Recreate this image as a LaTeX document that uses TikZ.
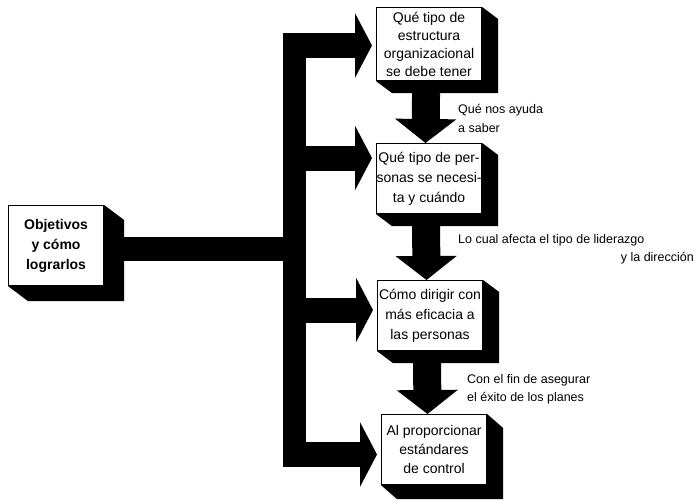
\documentclass[tikz,border=0pt]{standalone}
\usepackage{fontspec}
\setmainfont{Liberation Sans}
\usetikzlibrary{arrows.meta,calc,backgrounds}
\newcommand\boxshadow[3]{\fill (#1.north east) -- ++(#2,#3) |- ($(#1.south west)+(#2,#3)$) -- (#1.south west) -- (#1.south east) -- cycle;}
\begin{document}
\begin{tikzpicture}[x=1pt,y=-1pt,
  box/.style={draw,line width=1.1pt,fill=white,minimum width=105pt,minimum height=72pt,inner sep=0pt,align=center,font=\fontsize{14}{18}\selectfont},
  fat/.style={line width=25pt,-{Triangle[width=64pt,length=17pt]},shorten >=4pt},
  down/.style={line width=28pt,-{Triangle[width=60pt,length=24pt]}},
  lab/.style={font=\fontsize{12.5}{18}\selectfont,inner sep=0pt,anchor=west}]
\useasboundingbox (0,0) rectangle (696,501);
% boxes
\node[box,anchor=north west,minimum height=73pt] (b1) at (376,7) {Qué tipo de\\estructura\\organizacional\\se debe tener};
\node[box,anchor=north west,minimum height=70pt,font=\fontsize{14}{20}\selectfont] (b2) at (376,143) {Qué tipo de per-\\sonas se necesi-\\ta y cuándo};
\node[box,anchor=north west,minimum height=70pt,font=\fontsize{14}{20}\selectfont] (b3) at (377,280) {Cómo dirigir con\\más eficacia a\\las personas};
\node[box,anchor=north west,minimum height=70pt,font=\fontsize{14}{19}\selectfont] (b4) at (381,414) {Al proporcionar\\estándares\\de control};
\node[box,anchor=north west,minimum width=95pt,minimum height=80pt,font=\bfseries\fontsize{14}{20}\selectfont] (obj) at (8,205) {Objetivos\\y cómo\\lograrlos};
\begin{scope}[on background layer]
% main bar and bracket
\coordinate (mb) at (283,249);
\draw[line width=24pt] ($(obj.east |- mb)+(12,0)$) -- (mb);
\coordinate (vtop) at (294.5,33);
\coordinate (vbot) at (294.5,467);
\fill (283,33) rectangle (306,467);
\draw[fat] (283,45.5) -- (b1.west |- 0,45.5);
\draw[fat] (306,158) -- (b2.west |- 0,158);
\draw[fat] (306,310) -- (b3.west |- 0,310);
\draw[fat] (283,454.5) -- (b4.west |- 0,454.5);
% shadows
\boxshadow{b1}{16}{12}
\boxshadow{b2}{16}{12}
\boxshadow{b3}{16}{12}
\boxshadow{b4}{16}{14}
\boxshadow{obj}{20}{15}
\end{scope}
% down arrows
\draw[down] ($(b1.south)+(-3,12)$) -- (b2.north -| 425.5,0);
\draw[down] ($(b2.south)+(-3,12)$) -- (b3.north -| 426.5,0);
\draw[down] ($(b3.south)+(-3,12)$) -- (b4.north -| 427.5,0);
% labels
\node[lab] (l1) at (458,110) {Qué nos ayuda};
\node[lab] (l2) at (458,128) {a saber};
\node[lab] (l3) at (458,240) {Lo cual afecta el tipo de liderazgo};
\node[lab,anchor=east] (l4) at (694,258) {y la dirección};
\node[lab] (l5) at (467,380) {Con el fin de asegurar};
\node[lab] (l6) at (467,398) {el éxito de los planes};
\end{tikzpicture}
\end{document}
